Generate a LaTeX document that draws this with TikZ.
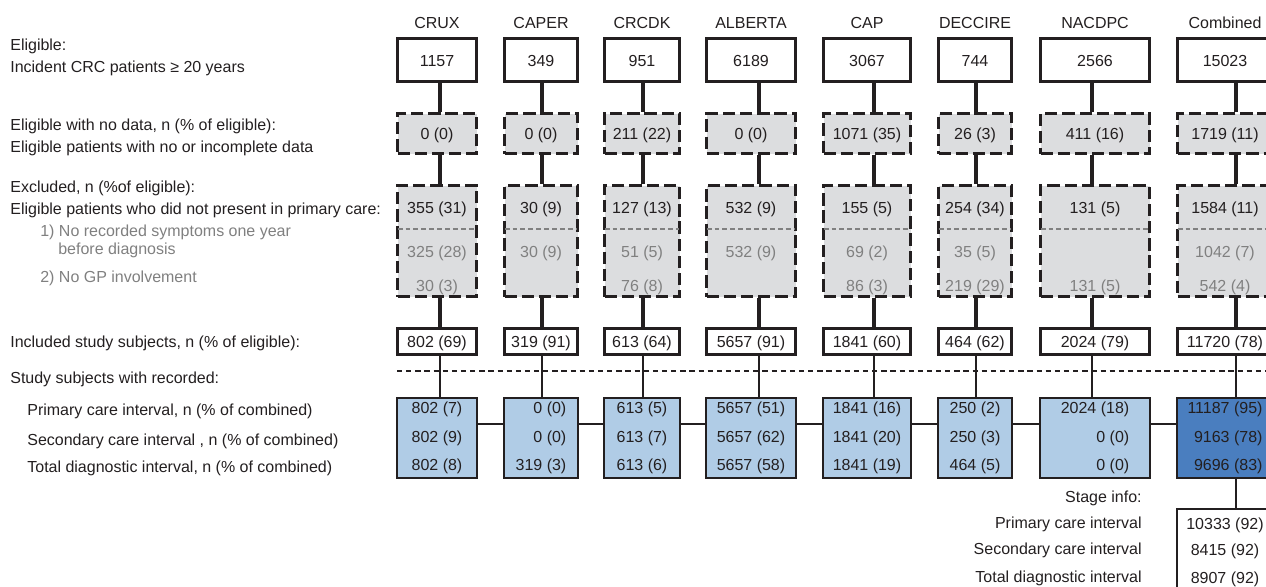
\documentclass[tikz,border=0pt]{standalone}
\usepackage{fontspec}
\setmainfont{Liberation Sans}
\usetikzlibrary{positioning,calc}
\definecolor{TextBlack}{RGB}{35,31,32}
\definecolor{BoxGray}{RGB}{220,221,223}
\definecolor{SubGray}{RGB}{128,128,128}
\definecolor{LightBlue}{RGB}{176,204,230}
\definecolor{DarkBlue}{RGB}{74,126,191}

\begin{document}
\begin{tikzpicture}[x=0.02cm, y=-0.02cm,
    every node/.style={font=\fontsize{9.1pt}{10.9pt}\selectfont, text=TextBlack},
    lbl/.style={anchor=base west, inner sep=0pt},
    sub/.style={lbl, text=SubGray},
    rlbl/.style={anchor=base east, inner sep=0pt},
    hd/.style={anchor=base, inner sep=0pt},
    num/.style={inner sep=0pt, text height=0.92em, text depth=0.2em},
    subnum/.style={num, text=SubGray},
    tb/.style={rectangle, draw=TextBlack, line width=1.85pt, fill=white, num},
    nd/.style={rectangle, draw=TextBlack, line width=1.85pt, dash pattern=on 7pt off 2.8pt, fill=BoxGray, num},
    bl/.style={rectangle, draw=TextBlack, line width=1.1pt, align=right, inner sep=0pt,
               font=\fontsize{9.1pt}{16.2pt}\selectfont},
    a/.style={line width=1.85pt, draw=TextBlack},
    lk/.style={line width=0.9pt, draw=TextBlack},
    dvd/.style={line width=0.8pt, draw=SubGray, dash pattern=on 2.8pt off 1.7pt, shorten <=1pt, shorten >=1pt},
    sepl/.style={line width=1.1pt, draw=TextBlack, dash pattern=on 3pt off 2.2pt}
]
    \useasboundingbox (0,0) rectangle (1266,586);
    \clip (0,0) rectangle (1266,586);

    % row labels
    \node[lbl] (l1) at (10,50.6) {Eligible:};
    \node[lbl] (l2) at (10,72.6) {Incident CRC patients ≥ 20 years};
    \node[lbl] (l3) at (10,130.6) {Eligible with no data, n (\% of eligible):};
    \node[lbl] (l4) at (10,152.6) {Eligible patients with no or incomplete data};
    \node[lbl] (l5) at (10,192.6) {Excluded, n (\%of eligible):};
    \node[lbl] (l6) at (10,214.6) {Eligible patients who did not present in primary care:};
    \node[sub] (l7) at (40,236.6) {1) No recorded symptoms one year};
    \node[sub] (l8) at (58,254.6) {before diagnosis};
    \node[sub] (l9) at (40,282.6) {2) No GP involvement};
    \node[lbl] (l10) at (10,347.6) {Included study subjects, n (\% of eligible):};
    \node[lbl] (l11) at (10,383.6) {Study subjects with recorded:};
    \node[lbl] (l12) at (27,415.6) {Primary care interval, n (\% of combined)};
    \node[lbl] (l13) at (27,445.6) {Secondary care interval , n (\% of combined)};
    \node[lbl] (l14) at (27,472.6) {Total diagnostic interval, n (\% of combined)};

    \coordinate (dv) at (0,229);
    \coordinate (hl) at (0,424);
    \coordinate (sL) at (397,371);
    \coordinate (sR) at (1270,371);
    \draw[sepl] (sL) -- (sR);

    % one column per study
    \foreach \i/\x/\w/\cx/\hdr/\el/\nd/\exc/\sA/\sB/\inc/\pa/\pb/\pc/\fc in {
        1/437/82/440/CRUX/1157/0 (0)/355 (31)/325 (28)/30 (3)/802 (69)/802 (7)/802 (9)/802 (8)/LightBlue,
        2/541/76/542/CAPER/349/0 (0)/30 (9)/30 (9)//319 (91)/0 (0)/0 (0)/319 (3)/LightBlue,
        3/642/78/643/CRCDK/951/211 (22)/127 (13)/51 (5)/76 (8)/613 (64)/613 (5)/613 (7)/613 (6)/LightBlue,
        4/751/92/759/ALBERTA/6189/0 (0)/532 (9)/532 (9)//5657 (91)/5657 (51)/5657 (62)/5657 (58)/LightBlue,
        5/867/90/874/CAP/3067/1071 (35)/155 (5)/69 (2)/86 (3)/1841 (60)/1841 (16)/1841 (20)/1841 (19)/LightBlue,
        6/975/76/976/DECCIRE/744/26 (3)/254 (34)/35 (5)/219 (29)/464 (62)/250 (2)/250 (3)/464 (5)/LightBlue,
        7/1095/112/1092/NACDPC/2566/411 (16)/131 (5)//131 (5)/2024 (79)/2024 (18)/0 (0)/0 (0)/LightBlue,
        8/1225/98/1236/Combined/15023/1719 (11)/1584 (11)/1042 (7)/542 (4)/11720 (78)/11187 (95)/9163 (78)/9696 (83)/DarkBlue} {
        \coordinate (cx\i) at (\cx,0);
        \node[hd] (h\i) at (\x,28.6) {\hdr};
        \node[tb, minimum width=(\w-3)*0.02cm, minimum height=43*0.02cm] (e\i) at (\x,60) {\el};
        \node[nd, minimum width=(\w-3)*0.02cm, minimum height=40*0.02cm] (n\i) at (\x,133.5) {\nd};
        \node[nd, minimum width=(\w-3)*0.02cm, minimum height=111*0.02cm] (x\i) at (\x,241) {};
        \draw[dvd] (x\i.west |- dv) -- (x\i.east |- dv);
        \node[num] (xa\i) at (\x,207) {\exc};
        \node[subnum] (xb\i) at (\x,251) {\sA};
        \node[subnum] (xc\i) at (\x,285) {\sB};
        \node[tb, minimum width=(\w-3)*0.02cm, minimum height=26*0.02cm] (i\i) at (\x,341.5) {\inc};
        \node[bl, fill=\fc, minimum width=(\w-2)*0.02cm, minimum height=80*0.02cm] (b\i) at (\x,438) {\pa\\\pb\\\pc};
        \draw[a] (e\i.south -| cx\i) -- (n\i.north -| cx\i);
        \draw[a] (n\i.south -| cx\i) -- (x\i.north -| cx\i);
        \draw[a] (x\i.south -| cx\i) -- (i\i.north -| cx\i);
        \draw[lk] (i\i.south -| cx\i) -- (b\i.north -| cx\i);
    }
    \foreach \i in {1,...,7} {
        \pgfmathtruncatemacro\j{\i+1}
        \draw[lk] (b\i.east |- hl) -- (b\j.west |- hl);
    }

    % stage info
    \node[rectangle, draw=TextBlack, line width=1.1pt, minimum width=96*0.02cm,
          minimum height=110*0.02cm, anchor=north] (st) at (1225,508) {};
    \draw[lk] (b8.south -| cx8) -- (st.north -| cx8);
    \node[rlbl] (sh) at (1142,502.6) {Stage info:};
    \node[rlbl] (s1) at (1142,528.6) {Primary care interval};
    \node[rlbl] (s2) at (1142,554.6) {Secondary care interval};
    \node[rlbl] (s3) at (1142,582.6) {Total diagnostic interval};
    \node[num] (v1) at (1225,523) {10333 (92)};
    \node[num] (v2) at (1225,549) {8415 (92)};
    \node[num] (v3) at (1225,577) {8907 (92)};
\end{tikzpicture}
\end{document}
